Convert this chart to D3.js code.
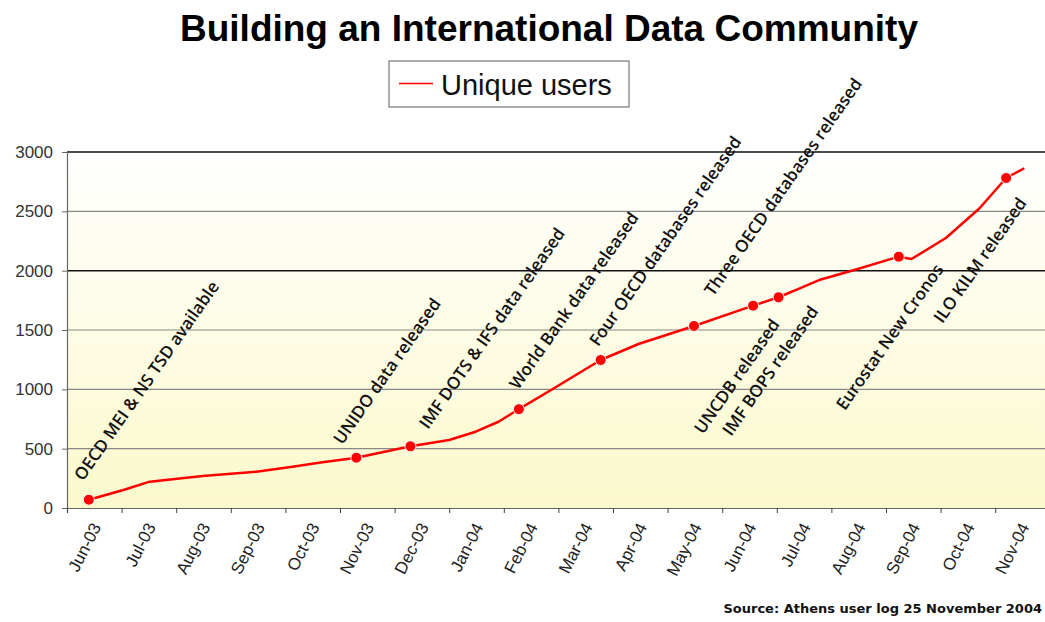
<html>
<head>
<meta charset="utf-8">
<style>
  body { margin: 0; background: #fff; }
  text { font-family: "Liberation Sans", Arial, sans-serif; }
</style>
</head>
<body>
<script src="https://d3js.org/d3.v7.min.js"></script>
<div id="chart"></div>
<script>
// month categories on the x axis
const months = ["Jun-03","Jul-03","Aug-03","Sep-03","Oct-03","Nov-03","Dec-03","Jan-04","Feb-04",
                "Mar-04","Apr-04","May-04","Jun-04","Jul-04","Aug-04","Sep-04","Oct-04","Nov-04"];
const yTicks = [0, 500, 1000, 1500, 2000, 2500, 3000];

// unique users
const dates = ["2003-06-13","2003-07-02","2003-07-17","2003-08-16","2003-09-15","2003-10-05","2003-10-20",
               "2003-11-10","2003-12-10","2004-01-01","2004-01-16","2004-01-29","2004-02-09","2004-02-27",
               "2004-03-25","2004-04-15","2004-05-16","2004-06-18","2004-07-02","2004-07-14","2004-07-25",
               "2004-08-15","2004-09-08","2004-09-15","2004-10-04","2004-10-23","2004-11-07","2004-11-17"];
const users = [70,152,222,270,306,348,382,424,520,573,643,727,833,1003,
               1247,1382,1534,1705,1776,1851,1921,2010,2118,2098,2275,2524,2781,2863];

// data releases marked on the line
const eventDates = ["2003-06-13","2003-11-10","2003-12-10","2004-02-09","2004-03-25",
                    "2004-05-16","2004-06-18","2004-07-02","2004-09-08","2004-11-07"];
const eventLabels = ["OECD MEI & NS TSD available","UNIDO data released","IMF DOTS & IFS data released",
                     "World Bank data released","Four OECD databases released","Three OECD databases released",
                     "UNCDB released","IMF BOPS released","Eurostat New Cronos","ILO KILM released"];

const W = 1045, H = 622;
const m = {left: 67, top: 152, bottom: 508, bandW: 54.6};

// label placement (pixels from the marker): above = text starts there, below = text ends there
const labelLayout = [
  {dx: -10.6, dy: -21.3, above: true},
  {dx: -19,   dy: -15.7, above: true},
  {dx: 12.6,  dy: -19.7, above: true},
  {dx: -5.5,  dy: -22,   above: true},
  {dx: -7.4,  dy: -16.3, above: true},
  {dx: 14.3,  dy: -32.3, above: true},
  {dx: 22.4,  dy: 15.3,  above: false},
  {dx: 35.7,  dy: 10.7,  above: false},
  {dx: 40.7,  dy: 9.3,   above: false},
  {dx: 16.3,  dy: 21.7,  above: false}
];

const parse = d3.timeParse("%Y-%m-%d");
// fractional month index since Jun 2003 (categories are evenly spaced)
function monthPos(s) {
  const d = parse(s);
  const start = d3.timeMonth.floor(d);
  const days = d3.timeDay.count(start, d3.timeMonth.offset(start, 1));
  return (d.getFullYear() - 2003) * 12 + d.getMonth() - 5 + (d.getDate() - 1) / days;
}

const x = d3.scaleLinear().domain([0, months.length]).range([m.left, m.left + months.length * m.bandW]);
const y = d3.scaleLinear().domain([0, 3000]).range([m.bottom, m.top]);

const svg = d3.select("#chart").append("svg").attr("width", W).attr("height", H);

const grad = svg.append("defs").append("linearGradient")
  .attr("id", "bg").attr("x1", 0).attr("y1", 0).attr("x2", 0).attr("y2", 1);
grad.append("stop").attr("offset", "0%").attr("stop-color", "#ffffff");
grad.append("stop").attr("offset", "100%").attr("stop-color", "#fbf9cc");

svg.append("rect")
  .attr("x", x(0)).attr("y", y(3000))
  .attr("width", x(months.length) - x(0)).attr("height", y(0) - y(3000))
  .attr("fill", "url(#bg)");

// gridlines
svg.append("g").selectAll("line").data(yTicks.filter(v => v > 0)).join("line")
  .attr("x1", x(0)).attr("x2", x(months.length))
  .attr("y1", d => y(d)).attr("y2", d => y(d))
  .attr("stroke", d => (d === 3000 || d === 2000) ? "#111" : "#888")
  .attr("stroke-width", d => (d === 3000 || d === 2000) ? 1.5 : 1.2);

// y axis
const yAxis = svg.append("g").attr("transform", `translate(${x(0)},0)`)
  .call(d3.axisLeft(y).tickValues(yTicks).tickFormat(d3.format("d")).tickSize(5).tickPadding(9));
yAxis.select(".domain").attr("stroke", "#666").attr("stroke-width", 1.2);
yAxis.selectAll(".tick line").attr("stroke", "#666");
yAxis.selectAll("text").attr("font-size", 17).attr("fill", "#333")
  .style("font-family", "'Liberation Sans', Arial, sans-serif");

// x axis: ticks between months, labels centred in each month
const xAxis = svg.append("g").attr("transform", `translate(0,${y(0)})`)
  .call(d3.axisBottom(x).tickValues(d3.range(0, months.length + 1)).tickSize(5).tickFormat(""));
xAxis.select(".domain").attr("stroke", "#666").attr("stroke-width", 1.2);
xAxis.selectAll(".tick line").attr("stroke", "#444");

svg.append("g").selectAll("text").data(months).join("text")
  .attr("transform", (d, i) => `translate(${x(i + 0.5) + 2},${y(0) + 16}) rotate(-63)`)
  .attr("text-anchor", "end")
  .attr("dy", "0.35em")
  .attr("font-size", 17)
  .attr("fill", "#222")
  .text(d => d);

// line
const pts = dates.map((d, i) => ({pos: monthPos(d), v: users[i]}));
svg.append("path").datum(pts)
  .attr("d", d3.line().x(d => x(d.pos)).y(d => y(d.v)))
  .attr("fill", "none").attr("stroke", "#ff0000").attr("stroke-width", 2.5)
  .attr("stroke-linejoin", "round");

// markers
const ev = eventDates.map((d, i) => ({pos: monthPos(d), v: users[dates.indexOf(d)], label: eventLabels[i], lay: labelLayout[i]}));
svg.append("g").selectAll("circle").data(ev).join("circle")
  .attr("cx", d => x(d.pos)).attr("cy", d => y(d.v)).attr("r", 5.5)
  .attr("fill", "#ff0000").attr("stroke", "#fff").attr("stroke-width", 1);

// annotations
svg.append("g").selectAll("text").data(ev).join("text")
  .attr("transform", d => `translate(${x(d.pos) + d.lay.dx},${y(d.v) + d.lay.dy}) rotate(-55)`)
  .attr("text-anchor", d => d.lay.above ? "start" : "end")
  .attr("dy", "0.35em")
  .style("font-family", "'Open Sans', sans-serif")
  .attr("font-weight", 600)
  .attr("font-size", 17)
  .attr("fill", "#111")
  .text(d => d.label);

// title
svg.append("text").attr("x", 549).attr("y", 41).attr("text-anchor", "middle")
  .attr("font-size", 37).attr("font-weight", "bold").attr("fill", "#000")
  .text("Building an International Data Community");

// legend
const lg = svg.append("g").attr("transform", "translate(389,61)");
lg.append("rect").attr("width", 240).attr("height", 46)
  .attr("fill", "#fff").attr("stroke", "#777").attr("stroke-width", 1.2);
lg.append("line").attr("x1", 10).attr("x2", 44).attr("y1", 22.5).attr("y2", 22.5)
  .attr("stroke", "#ff0000").attr("stroke-width", 1.5);
lg.append("text").attr("x", 52).attr("y", 34).attr("font-size", 29).attr("fill", "#111")
  .text("Unique users");

// source note
svg.append("text").attr("x", 1042).attr("y", 613).attr("text-anchor", "end")
  .style("font-family", "'DejaVu Sans', sans-serif")
  .attr("font-size", 13).attr("font-weight", "bold").attr("fill", "#111")
  .text("Source: Athens user log 25 November 2004");
</script>
</body>
</html>
